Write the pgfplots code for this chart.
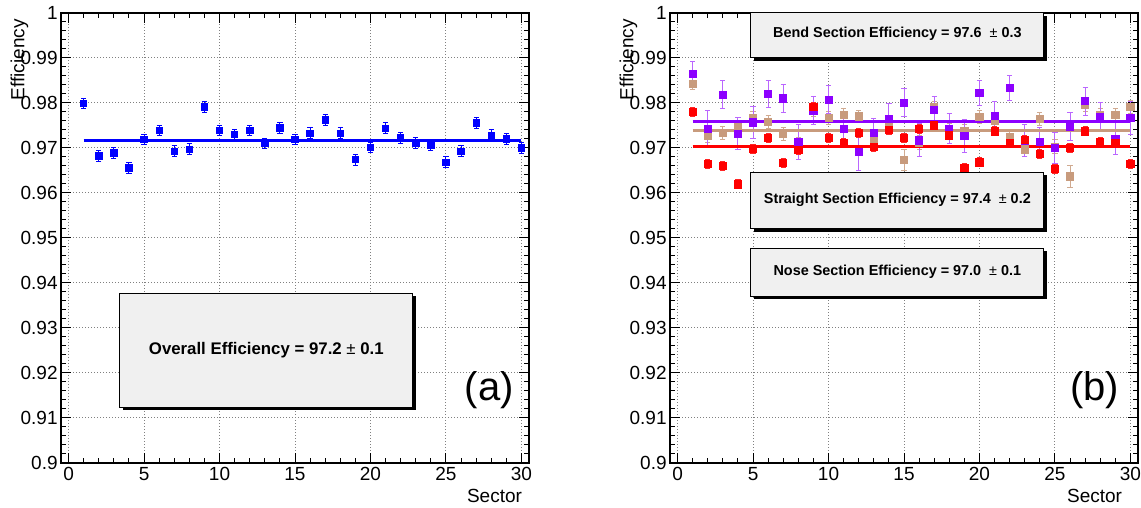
\documentclass[border=0pt]{standalone}
\usepackage{fontspec}
\setmainfont{Liberation Sans}
\usepackage{pgfplots}
\usepackage{pgfplotstable}
\pgfplotsset{compat=1.18}

\definecolor{effblue}{RGB}{0,0,255}
\definecolor{bendviolet}{RGB}{140,0,255}
\definecolor{straighttan}{RGB}{200,155,125}
\definecolor{nosered}{RGB}{255,0,0}
\definecolor{boxgray}{RGB}{240,240,240}

% Overall efficiency per sector
\pgfplotstableread{
sector eff err
1 0.9799 0.0012
2 0.9682 0.0012
3 0.9689 0.0012
4 0.9656 0.0012
5 0.9719 0.0012
6 0.9739 0.0012
7 0.9693 0.0012
8 0.9697 0.0012
9 0.9791 0.0012
10 0.9739 0.0012
11 0.9730 0.0012
12 0.9739 0.0012
13 0.9710 0.0012
14 0.9745 0.0012
15 0.9719 0.0012
16 0.9733 0.0012
17 0.9762 0.0012
18 0.9733 0.0012
19 0.9674 0.0012
20 0.9701 0.0012
21 0.9744 0.0012
22 0.9722 0.0012
23 0.9711 0.0012
24 0.9706 0.0012
25 0.9668 0.0012
26 0.9693 0.0012
27 0.9756 0.0012
28 0.9728 0.0012
29 0.9720 0.0012
30 0.9700 0.0012
}\overall

% Bend section
\pgfplotstableread{
sector eff err
1 0.9865 0.0028
2 0.9743 0.0040
3 0.9818 0.0031
4 0.9732 0.0036
5 0.9757 0.0035
6 0.9820 0.0030
7 0.9810 0.0031
8 0.9714 0.0039
9 0.9783 0.0031
10 0.9807 0.0031
11 0.9743 0.0032
12 0.9691 0.0042
13 0.9733 0.0033
14 0.9765 0.0033
15 0.9801 0.0031
16 0.9717 0.0037
17 0.9785 0.0030
18 0.9743 0.0034
19 0.9726 0.0037
20 0.9822 0.0027
21 0.9772 0.0031
22 0.9834 0.0028
23 0.9717 0.0036
24 0.9713 0.0032
25 0.9700 0.0035
26 0.9748 0.0031
27 0.9804 0.0031
28 0.9769 0.0032
29 0.9721 0.0036
30 0.9767 0.0036
}\bend

% Straight section
\pgfplotstableread{
sector eff err
1 0.9843 0.0013
2 0.9728 0.0015
3 0.9733 0.0014
4 0.9747 0.0015
5 0.9766 0.0015
6 0.9758 0.0014
7 0.9731 0.0015
8 0.9708 0.0015
9 0.9786 0.0015
10 0.9766 0.0014
11 0.9773 0.0014
12 0.9770 0.0014
13 0.9721 0.0015
14 0.9752 0.0015
15 0.9673 0.0024
16 0.9712 0.0015
17 0.9790 0.0014
18 0.9740 0.0015
19 0.9737 0.0015
20 0.9769 0.0014
21 0.9760 0.0014
22 0.9724 0.0015
23 0.9697 0.0015
24 0.9765 0.0014
25 0.9703 0.0015
26 0.9637 0.0024
27 0.9795 0.0014
28 0.9773 0.0014
29 0.9774 0.0014
30 0.9791 0.0014
}\straight

% Nose section
\pgfplotstableread{
sector eff err
1 0.9780 0.0010
2 0.9665 0.0010
3 0.9661 0.0010
4 0.9619 0.0010
5 0.9698 0.0010
6 0.9723 0.0010
7 0.9667 0.0010
8 0.9695 0.0010
9 0.9791 0.0010
10 0.9722 0.0010
11 0.9712 0.0010
12 0.9733 0.0010
13 0.9702 0.0010
14 0.9741 0.0010
15 0.9722 0.0010
16 0.9743 0.0010
17 0.9750 0.0010
18 0.9728 0.0010
19 0.9655 0.0010
20 0.9668 0.0010
21 0.9737 0.0010
22 0.9710 0.0010
23 0.9718 0.0010
24 0.9686 0.0010
25 0.9653 0.0010
26 0.9701 0.0010
27 0.9737 0.0010
28 0.9713 0.0010
29 0.9711 0.0010
30 0.9665 0.0010
}\nose

\tikzset{effbox/.style={fill=boxgray, draw=black, line width=0.5pt}}

\pgfplotsset{
  effframe/.style={
    scale only axis, width=234pt, height=225pt,
    clip=false,
    xmin=-0.5, xmax=30.5,
    ymin=0.9, ymax=1,
    ytick={0.9,0.91,0.92,0.93,0.94,0.95,0.96,0.97,0.98,0.99,1},
    yticklabels={0.9,0.91,0.92,0.93,0.94,0.95,0.96,0.97,0.98,0.99,1},
    minor y tick num=4,
    xtick={0,5,10,15,20,25,30},
    xticklabels={0,5,10,15,20,25,30},
    minor x tick num=4,
    tick align=inside, tick pos=both,
    xticklabel pos=lower, yticklabel pos=left,
    major tick length=5pt, minor tick length=2.5pt,
    every tick/.style={black, line width=0.5pt},
    axis line style={line width=0.6pt},
    grid=major,
    major grid style={gray, line width=0.5pt, dash pattern=on 0.5pt off 1pt},
    /pgf/number format/assume math mode=true,
    tick label style={font=\fontsize{9.5}{11}\selectfont},
    xticklabel style={inner sep=0pt, yshift=-2pt},
    yticklabel style={inner sep=0pt, xshift=-1.5pt},
    xlabel={Sector}, ylabel={Efficiency},
    label style={font=\fontsize{9.5}{11}\selectfont},
    ylabel style={at={(axis description cs:-0.078,1.002)}, anchor=base east},
  },
  % markers: size, marker colour, error bar colour
  effpoints/.style n args={3}{
    color=#2, only marks, mark=square*, mark size=#1,
    error bars/.cd, y dir=both, y explicit,
    error bar style={line width=0.5pt, color=#3},
    error mark=-,
    error mark options={rotate=90, line width=0.5pt, mark size=1.3pt, color=#3},
  },
}

\begin{document}
\begin{tikzpicture}
\useasboundingbox (0,0) rectangle (570.5pt,254pt);

% (a) overall efficiency
\begin{axis}[effframe,
  at={(30.5pt,22.5pt)}, anchor=south west,
  xlabel style={at={(axis description cs:1,-0.0867)}, anchor=base east},
]
\addplot[effpoints={1.6pt}{effblue}{effblue}] table[x=sector, y=eff, y error=err] {\overall};
\addplot[effblue, line width=1.5pt, no marks] coordinates {(1,0.9716) (30,0.9716)};
\fill[black] ([xshift=1.5pt,yshift=-1.5pt]axis cs:3.39,0.9124) rectangle ([xshift=1.5pt,yshift=-1.5pt]axis cs:22.8,0.9377);
\draw[effbox] (axis cs:3.39,0.9124) rectangle (axis cs:22.8,0.9377);
\node[font=\fontsize{8.4}{10}\selectfont] at (axis cs:13.1,0.925) {\textbf{Overall Efficiency = 97.2} ± \textbf{0.1}};
\node[font=\fontsize{20}{24}\selectfont] at (axis cs:27.86,0.9162) {(a)};
\end{axis}

% (b) efficiency per section type
\begin{axis}[effframe,
  at={(335pt,22.5pt)}, anchor=south west,
  xlabel style={at={(axis description cs:0.981,-0.0867)}, anchor=base east},
]
\addplot[effpoints={1.8pt}{straighttan}{straighttan!85!white}] table[x=sector, y=eff, y error=err] {\straight};
\addplot[effpoints={1.8pt}{bendviolet}{bendviolet!60!white}] table[x=sector, y=eff, y error=err] {\bend};
\addplot[effpoints={1.8pt}{nosered}{nosered!85!white}] table[x=sector, y=eff, y error=err] {\nose};
\addplot[straighttan, line width=1.5pt, no marks] coordinates {(1,0.9739) (30,0.9739)};
\addplot[bendviolet, line width=1.5pt, no marks] coordinates {(1,0.9758) (30,0.9758)};
\addplot[nosered, line width=1.5pt, no marks] coordinates {(1,0.9703) (30,0.9703)};
% section summary boxes with drop shadows
\fill[black] ([xshift=1.5pt,yshift=-1.5pt]axis cs:4.86,0.9901) rectangle ([xshift=1.5pt,yshift=-1.5pt]axis cs:24.26,1.0);
\draw[effbox] (axis cs:4.86,0.9901) rectangle (axis cs:24.26,1.0);
\fill[black] ([xshift=1.5pt,yshift=-1.5pt]axis cs:4.86,0.9521) rectangle ([xshift=1.5pt,yshift=-1.5pt]axis cs:24.26,0.9646);
\draw[effbox] (axis cs:4.86,0.9521) rectangle (axis cs:24.26,0.9646);
\fill[black] ([xshift=1.5pt,yshift=-1.5pt]axis cs:4.86,0.9370) rectangle ([xshift=1.5pt,yshift=-1.5pt]axis cs:24.26,0.9477);
\draw[effbox] (axis cs:4.86,0.9370) rectangle (axis cs:24.26,0.9477);
\node[font=\fontsize{7.2}{9}\selectfont] at (axis cs:14.56,0.9953) {\textbf{Bend Section Efficiency = 97.6} \ ± \textbf{0.3}};
\node[font=\fontsize{7.2}{9}\selectfont] at (axis cs:14.56,0.9584) {\textbf{Straight Section Efficiency = 97.4} \ ± \textbf{0.2}};
\node[font=\fontsize{7.2}{9}\selectfont] at (axis cs:14.56,0.9424) {\textbf{Nose Section Efficiency = 97.0} \ ± \textbf{0.1}};
\node[font=\fontsize{20}{24}\selectfont] at (axis cs:27.64,0.9162) {(b)};
\end{axis}
\end{tikzpicture}
\end{document}
